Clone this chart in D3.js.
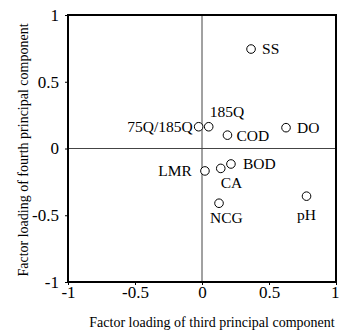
<!DOCTYPE html>
<html>
<head>
<meta charset="utf-8">
<script src="https://cdn.jsdelivr.net/npm/d3@7/dist/d3.min.js"></script>
<style>
  html, body { margin: 0; padding: 0; background: #fff; }
  svg text { font-family: "Liberation Serif", "Times New Roman", serif; fill: #000; }
</style>
</head>
<body>
<svg id="chart" width="339" height="332"></svg>
<script>
// Factor loadings of water-quality variables on the 3rd and 4th principal components
const variables = ["SS", "DO", "COD", "185Q", "75Q/185Q", "LMR", "CA", "BOD", "NCG", "pH"];
const loadingPC3 = [0.366, 0.627, 0.19, 0.05, -0.025, 0.022, 0.14, 0.216, 0.127, 0.78];
const loadingPC4 = [0.745, 0.156, 0.10, 0.163, 0.163, -0.168, -0.149, -0.116, -0.41, -0.357];
const tickValues = [-1, -0.5, 0, 0.5, 1];
const tickLabels = ["-1", "-0.5", "0", "0.5", "1"];

// Label placement around each marker: [dx, dy, text-anchor]
const labelPlacement = {
  "SS": [11, 0, "start"],
  "DO": [11, 0, "start"],
  "COD": [9, 0, "start"],
  "185Q": [1, -15, "start"],
  "75Q/185Q": [-6, 0, "end"],
  "LMR": [-13, 0, "end"],
  "CA": [0, 14, "start"],
  "BOD": [12, 0, "start"],
  "NCG": [-9, 14, "start"],
  "pH": [0, 18, "middle"]
};

const svg = d3.select("#chart");
const x = d3.scaleLinear().domain([-1, 1]).range([68, 336]);
const y = d3.scaleLinear().domain([-1, 1]).range([282, 15]);

// Zero reference lines
svg.append("line")
  .attr("x1", x(0)).attr("x2", x(0)).attr("y1", y(1)).attr("y2", y(-1))
  .attr("stroke", "#444").attr("stroke-width", 1);
svg.append("line")
  .attr("x1", x(-1)).attr("x2", x(1)).attr("y1", y(0)).attr("y2", y(0))
  .attr("stroke", "#444").attr("stroke-width", 1);

// Axes
const xAxis = d3.axisBottom(x).tickValues(tickValues)
  .tickFormat((d, i) => tickLabels[i]).tickSizeInner(3).tickSizeOuter(0).tickPadding(1);
const yAxis = d3.axisLeft(y).tickValues(tickValues)
  .tickFormat((d, i) => tickLabels[i]).tickSizeInner(3).tickSizeOuter(0).tickPadding(6);

const gx = svg.append("g").attr("transform", `translate(0,${y(-1)})`).call(xAxis);
const gy = svg.append("g").attr("transform", `translate(${x(-1)},0)`).call(yAxis);
[gx, gy].forEach(g => {
  g.select(".domain").remove();
  g.selectAll(".tick line").attr("stroke", "#000").attr("stroke-width", 1);
  g.selectAll(".tick text")
    .attr("font-family", "Liberation Serif, Times New Roman, serif")
    .attr("font-size", 17).attr("fill", "#000");
});
// Keep the right-most x tick label inside the canvas
gx.selectAll(".tick text").filter(d => d === 1)
  .attr("text-anchor", "end").attr("dx", 3);

// Plot frame
svg.append("rect")
  .attr("x", x(-1)).attr("y", y(1))
  .attr("width", x(1) - x(-1)).attr("height", y(-1) - y(1))
  .attr("fill", "none").attr("stroke", "#000").attr("stroke-width", 2);

// Points and labels
const pts = variables.map((name, i) => ({ name, px: loadingPC3[i], py: loadingPC4[i] }));

svg.append("g").selectAll("circle").data(pts).join("circle")
  .attr("cx", d => x(d.px)).attr("cy", d => y(d.py)).attr("r", 4.3)
  .attr("fill", "#fff").attr("stroke", "#000").attr("stroke-width", 1);

svg.append("g").selectAll("text").data(pts).join("text")
  .attr("x", d => x(d.px) + labelPlacement[d.name][0])
  .attr("y", d => y(d.py) + labelPlacement[d.name][1])
  .attr("dy", "0.35em")
  .attr("text-anchor", d => labelPlacement[d.name][2])
  .attr("font-size", 15.5)
  .text(d => d.name);

// Axis titles
svg.append("text")
  .attr("x", 212).attr("y", 327)
  .attr("text-anchor", "middle").attr("font-size", 14)
  .text("Factor loading of third principal component");
svg.append("text")
  .attr("transform", "translate(28,150) rotate(-90)")
  .attr("text-anchor", "middle").attr("font-size", 14)
  .text("Factor loading of fourth principal component");
</script>
</body>
</html>
